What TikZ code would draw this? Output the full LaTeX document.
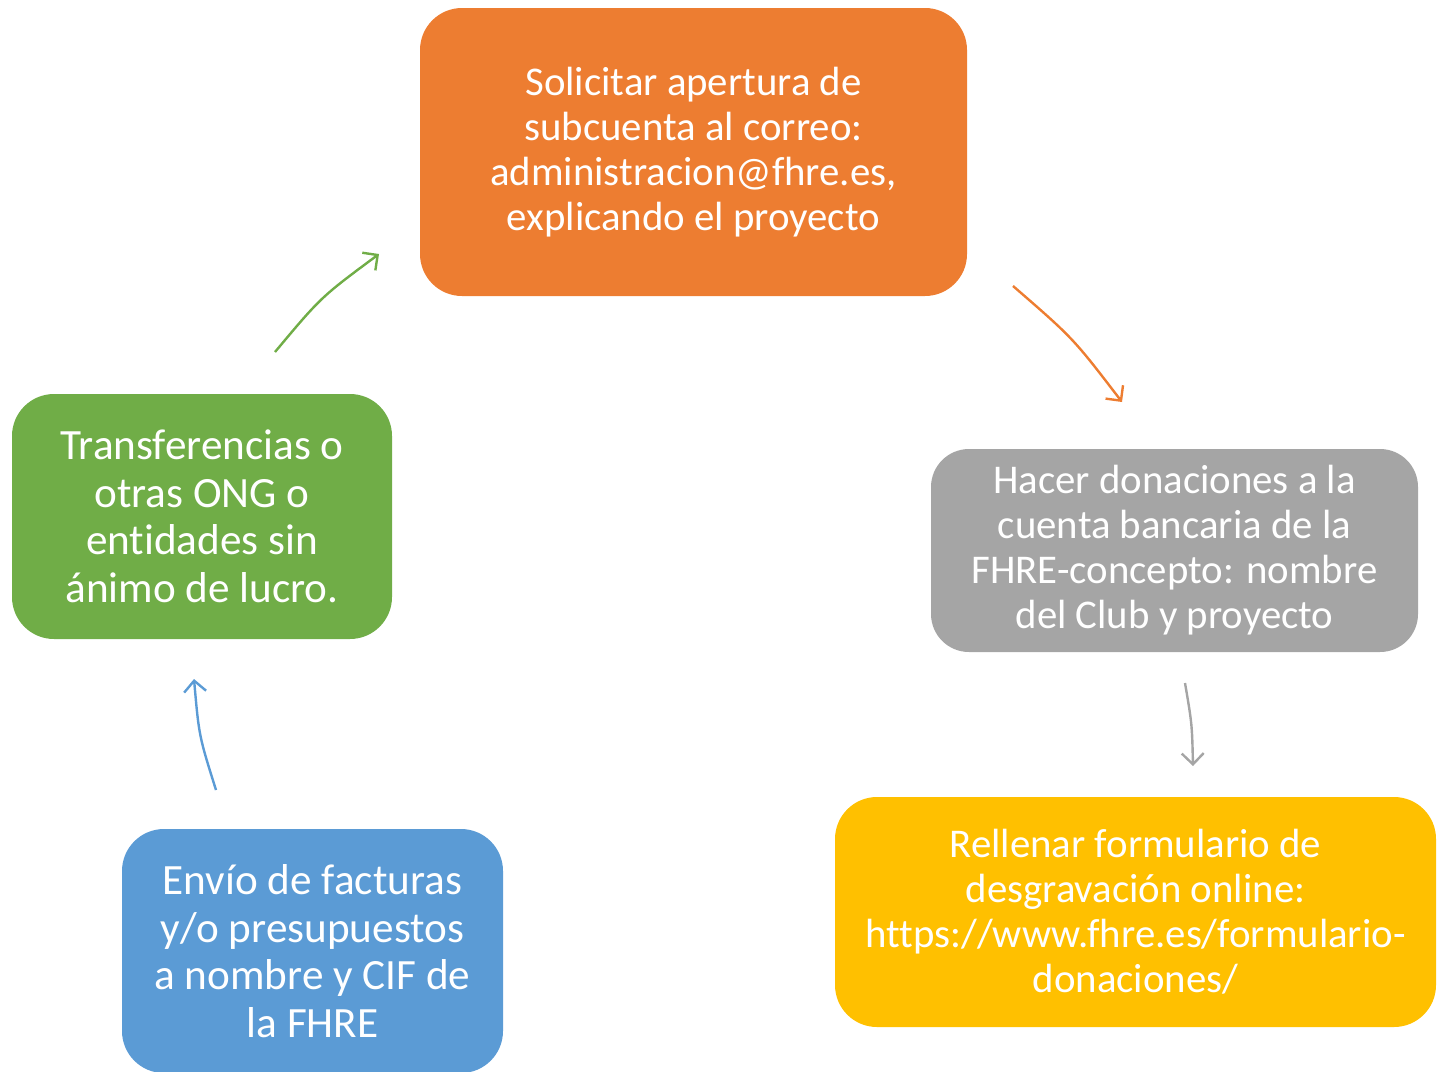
\documentclass[tikz,border=0pt]{standalone}
\usepackage{fontspec}
\setmainfont{Carlito}[Ligatures=NoCommon]
\usetikzlibrary{arrows.meta}
\definecolor{cOrange}{HTML}{ED7D31}
\definecolor{cGray}{HTML}{A5A5A5}
\definecolor{cYellow}{HTML}{FFC000}
\definecolor{cBlue}{HTML}{5B9BD5}
\definecolor{cGreen}{HTML}{70AD47}
\tikzset{
  box/.style={rectangle, rounded corners=42pt, inner sep=0pt, text=white, align=center,
    font=\fontsize{40.8}{45}\selectfont},
  bigbox/.style={box, font=\fontsize{43.2}{47.5}\selectfont},
  flow/.style={line width=2.4pt, -{Straight Barb[length=11pt,width=22pt,line width=2.4pt]}},
}
\begin{document}
\begin{tikzpicture}[x=1pt,y=-1pt]
\useasboundingbox (0,0) rectangle (1437,1071);
\begin{scope}
\clip (0,0) rectangle (1437,1071);
\node[box, fill=cOrange, minimum width=547pt, minimum height=288pt] (sol) at (693.5,152)
  {Solicitar apertura de\\subcuenta al correo:\\administracion@fhre.es,\\explicando el proyecto};
\node[box, fill=cGray, minimum width=487pt, minimum height=203pt, rounded corners=38pt] (don) at (1174.5,550.5)
  {Hacer donaciones a la\\cuenta bancaria de la\\FHRE-concepto: nombre\\del Club y proyecto};
\node[box, fill=cYellow, minimum width=601pt, minimum height=230pt] (form) at (1135.5,912)
  {Rellenar formulario de\\desgravación online:\\https://www.fhre.es/formulario-\\donaciones/};
\node[bigbox, fill=cBlue, minimum width=381pt, minimum height=244pt] (env) at (312.5,951)
  {Envío de facturas\\y/o presupuestos\\a nombre y CIF de\\la FHRE};
\node[bigbox, fill=cGreen, minimum width=380pt, minimum height=245pt] (tra) at (202,516.5)
  {Transferencias o\\otras ONG o\\entidades sin\\ánimo de lucro.};
\end{scope}
\coordinate (g1) at (275,352);
\coordinate (g2) at (379,254);
\coordinate (o1) at (1013,286);
\coordinate (o2) at (1122,402);
\coordinate (y1) at (1185,683);
\coordinate (y2) at (1193,766);
\coordinate (b1) at (216,790);
\coordinate (b2) at (194,679);
\draw[flow, cGreen] (g1) .. controls +(46,-55) .. (g2);
\draw[flow, cOrange] (o1) .. controls +(60,52) .. (o2);
\draw[flow, cGray] (y1) .. controls +(7,41) .. (y2);
\draw[flow, cBlue] (b1) .. controls +(-17,-54) .. (b2);
\end{tikzpicture}
\end{document}
